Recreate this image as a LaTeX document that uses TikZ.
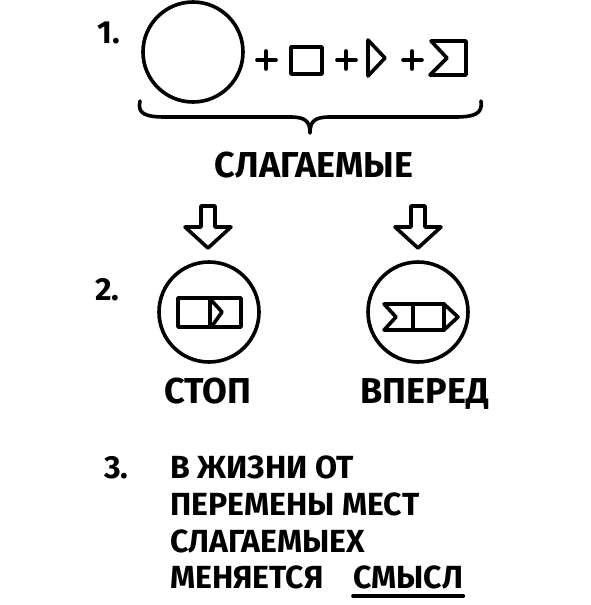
\documentclass[tikz,border=0pt]{standalone}
\usepackage{fontspec}
\setmainfont{Fira Sans}
\begin{document}
\begin{tikzpicture}[x=1pt,y=-1pt,
  ink/.style={line width=3.6pt,line cap=round,line join=round,draw=black},
  lbl/.style={font=\fontsize{32}{32}\selectfont\bfseries,inner sep=0pt,anchor=base west},
  big/.style={font=\fontsize{36}{36}\selectfont\bfseries,inner sep=0pt,anchor=base},
  num/.style={font=\fontsize{32}{32}\selectfont\bfseries,inner sep=0pt,anchor=base west}]
\useasboundingbox[fill=white] (0,0) rectangle (591,605);

% row 1
\node[num] (n1) at (97,43) {1.};
\draw[ink] (193,52) circle (50);
\draw[ink] (257,60) -- (276,60) (266,51) -- (266,69);
\draw[ink] (291,47) rectangle (322,74);
\draw[ink] (337,60) -- (356,60) (346,51) -- (346,69);
\draw[ink] (368,40) -- (385,58) -- (368,76) -- cycle;
\draw[ink] (403,60) -- (422,60) (412,51) -- (412,69);
\draw[ink] (431,41) -- (466,41) -- (466,75) -- (430,75) -- (447,58) -- cycle;

% brace
\draw[ink] (140,101) .. controls (137,114) and (146,117) .. (165,117) -- (290,117)
  .. controls (305,117) and (310,121) .. (310,133)
  .. controls (310,121) and (315,117) .. (330,117) -- (455,117)
  .. controls (474,117) and (483,114) .. (481,101);

\node[big] (sum) at (314,177) {СЛАГАЕМЫЕ};

% hollow arrows
\foreach \x/\n in {208/a1,418/a2}{
  \draw[ink] (\x-7,206) -- (\x+7,206) -- (\x+7,227) -- (\x+23,227) -- (\x,248)
    -- (\x-23,227) -- (\x-7,227) -- cycle;
}

% row 2
\node[num] (n2) at (95,300) {2.};
\draw[ink] (209,312) circle (50);
\draw[ink] (178,298) rectangle (241,327);
\draw[ink] (210,298) -- (210,327);
\draw[ink] (211,300) -- (222,312) -- (212,326);

\draw[ink] (418,312) circle (50);
\draw[ink] (384,304) -- (444,304) -- (458,317) -- (444,330) -- (384,330) -- (396,317) -- cycle;
\draw[ink] (413,304) -- (413,330);
\draw[ink] (444,304) -- (444,330);

\node[big] (stop) at (208,403) {СТОП};
\node[big] (fwd) at (425,403) {ВПЕРЕД};

% row 3
\node[num] (n3) at (104,478) {3.};
\node[lbl] (l1) at (170,478) {В ЖИЗНИ ОТ};
\node[lbl] (l2) at (170,515) {ПЕРЕМЕНЫ МЕСТ};
\node[lbl] (l3) at (170,552) {СЛАГАЕМЫЕХ};
\node[lbl] (l4) at (170,588) {МЕНЯЕТСЯ};
\node[lbl] (l5) at (353,588) {СМЫСЛ};
\draw[ink] ([yshift=-8pt]l5.base west) -- ([yshift=-8pt]l5.base east);
\end{tikzpicture}
\end{document}
